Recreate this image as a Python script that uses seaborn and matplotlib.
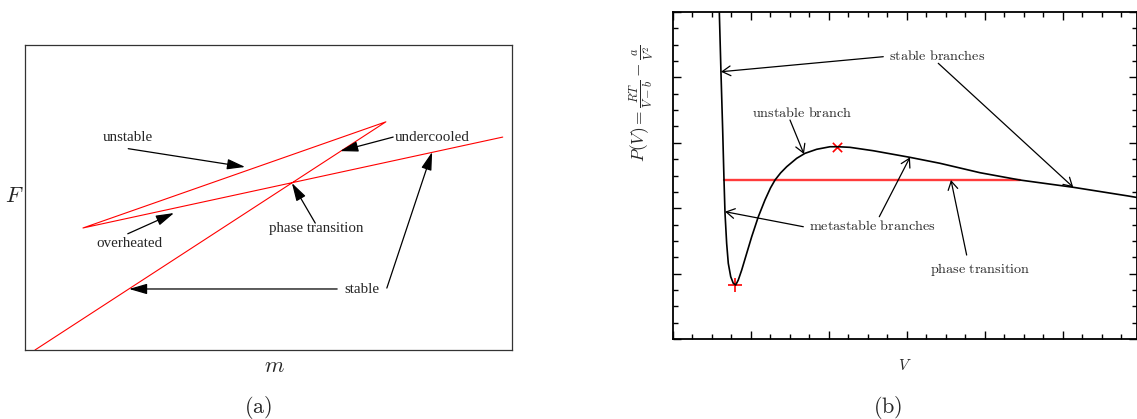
import numpy as np
import pandas as pd
import matplotlib
matplotlib.use("Agg")
import matplotlib.pyplot as plt
from matplotlib.ticker import MultipleLocator
import seaborn as sns

# (a) free energy swallowtail, polyline
m_vals = [0.0205, 0.741, 0.119, 0.981]
F_vals = [0.0, 0.748, 0.400, 0.698]

# (b) van der Waals isotherm
V_vals = [0.594, 0.615, 0.637, 0.654, 0.667, 0.688, 0.709, 0.740, 0.773, 0.804,
          0.837, 0.881, 0.945, 1.009, 1.094, 1.179, 1.250, 1.308, 1.380, 1.458,
          1.586, 1.692, 1.842, 2.013, 2.119, 2.269, 2.568, 3.038, 3.423, 3.936,
          4.449, 5.132, 5.837, 5.949]
P_vals = [5.000, 4.083, 3.196, 2.431, 1.922, 1.463, 1.157, 0.953, 0.852, 0.826,
          0.902, 1.055, 1.310, 1.564, 1.870, 2.125, 2.310, 2.431, 2.540, 2.635,
          2.763, 2.839, 2.901, 2.940, 2.940, 2.931, 2.879, 2.778, 2.687, 2.543,
          2.431, 2.320, 2.187, 2.164]
maxwell_V = [0.654, 4.449]
maxwell_P = [2.431, 2.431]
pmin_V, pmin_P = [0.795], [0.826]
pmax_V, pmax_P = [2.106], [2.936]

sns.set_style("white")
plt.rcParams["mathtext.fontset"] = "cm"
plt.rcParams["font.family"] = ["Liberation Serif", "DejaVu Serif"]

fig = plt.figure(figsize=(11.37, 4.19), dpi=100)
ax1 = fig.add_axes([0.022, 0.1647, 0.4283, 0.728])
ax2 = fig.add_axes([0.5919, 0.1909, 0.4081, 0.7804])

# ---- panel (a)
sns.lineplot(x=m_vals, y=F_vals, sort=False, color="red", lw=0.8, ax=ax1)
ax1.set_xlim(0, 1)
ax1.set_ylim(0, 1)
ax1.set_xticks([])
ax1.set_yticks([])
for s in ax1.spines.values():
    s.set_color("#333333")
    s.set_linewidth(0.9)
ax1.set_xlabel("$m$", fontsize=16)
ax1.xaxis.set_label_coords(0.513, -0.025)
ax1.set_ylabel("$F$", fontsize=16, rotation=0)
ax1.yaxis.set_label_coords(-0.021, 0.47)

fill_arrow = dict(arrowstyle="-|>,head_length=1.1,head_width=0.32", color="black",
                  lw=0.9, shrinkA=0, shrinkB=0)
arrows_a = [((0.212, 0.66), (0.452, 0.60)),
            ((0.756, 0.698), (0.647, 0.652)),
            ((0.211, 0.381), (0.306, 0.449)),
            ((0.596, 0.416), (0.548, 0.5475)),
            ((0.641, 0.200), (0.2136, 0.200)),
            ((0.743, 0.203), (0.836, 0.649))]
for start, tip in arrows_a:
    ax1.annotate("", xy=tip, xytext=start, arrowprops=fill_arrow)
for txt, xy in [("unstable", (0.212, 0.698)), ("undercooled", (0.836, 0.698)),
                ("overheated", (0.2136, 0.348)), ("phase transition", (0.5975, 0.397)),
                ("stable", (0.692, 0.197))]:
    ax1.text(xy[0], xy[1], txt, fontsize=10.8, ha="center", va="center")

# ---- panel (b)
sns.lineplot(x=maxwell_V, y=maxwell_P, sort=False, color="#ff3b3b", lw=1.7, ax=ax2)
sns.lineplot(x=V_vals, y=P_vals, sort=False, color="black", lw=1.2, ax=ax2)
sns.scatterplot(x=pmin_V, y=pmin_P, marker="+", color="red", s=90, linewidth=1.2, ax=ax2)
sns.scatterplot(x=pmax_V, y=pmax_P, marker="x", color="red", s=45, linewidth=1.2, ax=ax2)
ax2.set_xlim(0, 5.949)
ax2.set_ylim(0, 5)
ax2.xaxis.set_major_locator(MultipleLocator(1))
ax2.xaxis.set_minor_locator(MultipleLocator(0.25))
ax2.yaxis.set_major_locator(MultipleLocator(1))
ax2.yaxis.set_minor_locator(MultipleLocator(0.25))
ax2.tick_params(which="both", direction="in", top=True, right=True, bottom=True, left=True,
                labelbottom=False, labelleft=False, color="black", width=1.0)
ax2.tick_params(which="major", length=6)
ax2.tick_params(which="minor", length=3.5)
for s in ax2.spines.values():
    s.set_color("black")
    s.set_linewidth(1.3)
ax2.set_xlabel("$V$", fontsize=11, labelpad=14)
ax2.set_ylabel(r"$P(V)=\frac{RT}{V-b}-\frac{a}{V^2}$", fontsize=12.5)
ax2.yaxis.set_label_coords(-0.034, 0.72)

open_arrow = dict(arrowstyle="->,head_length=0.6,head_width=0.35", color="black",
                  lw=0.9, shrinkA=0, shrinkB=0)
arrows_b = [((2.696, 4.317), (0.615, 4.087)),
            ((3.401, 4.216), (5.132, 2.320)),
            ((1.50, 3.349), (1.679, 2.829)),
            ((1.671, 1.717), (0.667, 1.947)),
            ((2.645, 1.870), (3.038, 2.778)),
            ((3.765, 1.284), (3.564, 2.431))]
for start, tip in arrows_b:
    ax2.annotate("", xy=tip, xytext=start, arrowprops=open_arrow)
for txt, xy in [(r"$\mathrm{stable\ branches}$", (3.381, 4.332)),
                (r"$\mathrm{unstable\ branch}$", (1.658, 3.460)),
                (r"$\mathrm{metastable\ branches}$", (2.555, 1.728)),
                (r"$\mathrm{phase\ transition}$", (3.936, 1.066))]:
    ax2.text(xy[0], xy[1], txt, fontsize=10.2, ha="center", va="center")

fig.text(258 / 1137, 1 - 407 / 419, r"$\mathrm{(a)}$", fontsize=16, ha="center", va="center")
fig.text(888 / 1137, 1 - 407 / 419, r"$\mathrm{(b)}$", fontsize=16, ha="center", va="center")

fig.savefig("out.png", dpi=100)
